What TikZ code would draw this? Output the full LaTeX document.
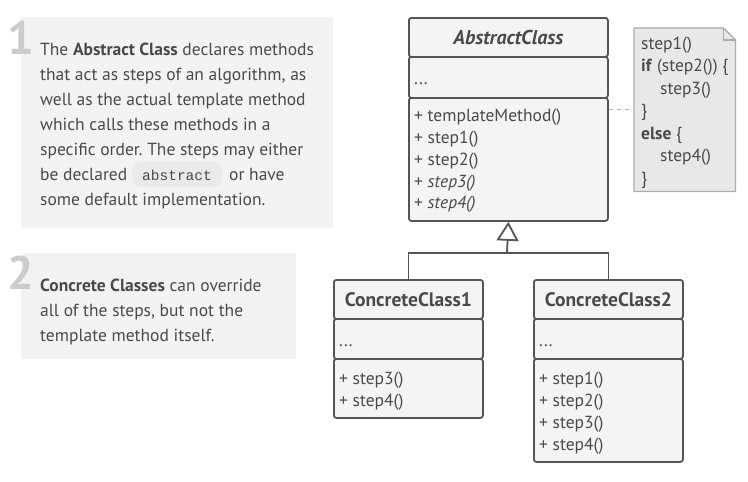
\documentclass[tikz,border=0pt]{standalone}
\usepackage{fontspec}
\setmainfont{PT Sans}
\newfontfamily\codefont{Liberation Mono}
\usetikzlibrary{arrows.meta}
\frenchspacing
\definecolor{panelbg}{HTML}{F3F3F3}
\definecolor{numcol}{HTML}{CCCCCC}
\definecolor{ink}{HTML}{4A4A4A}
\definecolor{boxline}{HTML}{555555}
\definecolor{boxfill}{HTML}{F4F4F4}
\definecolor{notefill}{HTML}{E8E8E8}
\definecolor{noteline}{HTML}{ABABAB}
\definecolor{codebg}{HTML}{EAEAEA}
\tikzset{
  panel/.style={fill=panelbg, draw=none},
  bignum/.style={font=\fontsize{47}{47}\selectfont\bfseries, text=numcol, inner sep=0pt, anchor=base east},
  desc/.style={font=\fontsize{17.5}{25}\selectfont, text=ink, inner sep=0pt, anchor=base west},
  comp/.style={draw=boxline, fill=boxfill, line width=1.8pt, rounded corners=2.5pt, inner sep=0pt, anchor=north west},
  ctitle/.style={font=\fontsize{19.5}{20}\selectfont\bfseries, text=ink},
  mtext/.style={font=\fontsize{17.5}{22}\selectfont, text=ink, inner sep=0pt, anchor=base west},
  notebox/.style={draw=noteline, fill=notefill, line width=1.2pt, line join=round},
  dashline/.style={draw=noteline, line width=1.2pt, dash pattern=on 4pt off 4pt},
  inherit/.style={draw=boxline, line width=1.8pt},
  codechip/.style={fill=codebg, rounded corners=9pt, inner sep=0pt, anchor=north west}
}
\begin{document}
\begin{tikzpicture}[x=1pt,y=-1pt]
\useasboundingbox (0,0) rectangle (748,482);

% ---------- panel 1 ----------
\node[panel, anchor=north west, minimum width=312pt, minimum height=211pt, inner sep=0pt] (p1) at (21,17) {};
\node[codechip, minimum width=90pt, minimum height=25pt] (chip) at (132,162) {};
\node[bignum] (n1) at (34,54) {1};
\node[desc] (l1) at (40,55) {The \textbf{Abstract Class} declares methods};
\node[desc] (l2) at (40,80) {that act as steps of an algorithm, as};
\node[desc] (l3) at (40,105) {well as the actual template method};
\node[desc] (l4) at (40,130) {which calls these methods in a};
\node[desc] (l5) at (40,155) {specific order. The steps may either};
\node[desc] (l6) at (40,180) {be declared};
\node[desc, font=\fontsize{14.5}{25}\codefont] (l6b) at (142,180) {abstract};
\node[desc] (l6c) at (229,180) {or have};
\node[desc] (l7) at (40,205) {some default implementation.};

% ---------- panel 2 ----------
\node[panel, anchor=north west, minimum width=275pt, minimum height=106pt, inner sep=0pt] (p2) at (21,253) {};
\node[bignum] (n2) at (34,289) {2};
\node[desc] (m1) at (40,291) {\textbf{Concrete Classes} can override};
\node[desc] (m2) at (40,316) {all of the steps, but not the};
\node[desc] (m3) at (40,341) {template method itself.};

% ---------- AbstractClass ----------
\node[comp, minimum width=199pt, minimum height=123pt] (acm) at (408,97) {};
\node[comp, minimum width=199pt, minimum height=41pt] (aca) at (408,56) {};
\node[comp, minimum width=199pt, minimum height=39pt] (ach) at (408,17) {};
\node[ctitle, font=\fontsize{20}{20}\selectfont\bfseries\itshape] (act) at (ach.center) {AbstractClass};
\node[mtext] (aad) at (414,84) {...};
\node[mtext] (am1) at (414,121) {+ templateMethod()};
\node[mtext] (am2) at (414,143) {+ step1()};
\node[mtext] (am3) at (414,165) {+ step2()};
\node[mtext] (am4) at (414,187) {+ \textit{step3()}};
\node[mtext] (am5) at (414,208.5) {+ \textit{step4()}};

% ---------- note ----------
\node[anchor=north west, minimum width=101pt, minimum height=163pt, inner sep=0pt] (note) at (634,28) {};
\draw[notebox] (note.north west) -- ([xshift=-12pt]note.north east) -- ([yshift=-12pt]note.north east) -- (note.south east) -- (note.south west) -- cycle;
\draw[notebox, fill=none] ([xshift=-12pt]note.north east) -- ([xshift=-12pt,yshift=-12pt]note.north east) -- ([yshift=-12pt]note.north east);
\node[mtext] (t1) at (641,49) {step1()};
\node[mtext] (t2) at (641,71.5) {\textbf{if} (step2()) \{};
\node[mtext] (t3) at (660,94) {step3()};
\node[mtext] (t4) at (641,116.5) {\}};
\node[mtext] (t5) at (641,139) {\textbf{else} \{};
\node[mtext] (t6) at (660,161.5) {step4()};
\node[mtext] (t7) at (641,184) {\}};
\draw[dashline] (note.west -| acm.east) -- (note.west);

% ---------- ConcreteClass1 ----------
\node[comp, minimum width=149pt, minimum height=59pt] (c1m) at (333,358) {};
\node[comp, minimum width=149pt, minimum height=40pt] (c1a) at (333,318) {};
\node[comp, minimum width=149pt, minimum height=39pt] (c1h) at (333,279) {};
\node[ctitle] (c1t) at (c1h.center) {ConcreteClass1};
\node[mtext] (c1d) at (339,346) {...};
\node[mtext] (c1s3) at (339,384) {+ step3()};
\node[mtext] (c1s4) at (339,406) {+ step4()};

% ---------- ConcreteClass2 ----------
\node[comp, minimum width=149pt, minimum height=103pt] (c2m) at (533,358) {};
\node[comp, minimum width=149pt, minimum height=40pt] (c2a) at (533,318) {};
\node[comp, minimum width=149pt, minimum height=39pt] (c2h) at (533,279) {};
\node[ctitle] (c2t) at (c2h.center) {ConcreteClass2};
\node[mtext] (c2d) at (539,346) {...};
\node[mtext] (c2s1) at (539,384) {+ step1()};
\node[mtext] (c2s2) at (539,406) {+ step2()};
\node[mtext] (c2s3) at (539,428) {+ step3()};
\node[mtext] (c2s4) at (539,450) {+ step4()};

% ---------- inheritance ----------
\coordinate (junc) at (507,253);
\draw[inherit] (c1h.north) |- (junc) -| (c2h.north);
\draw[inherit, -{Triangle[open, length=19pt, width=22pt, line width=1.8pt]}] (junc) -- (acm.south);
\end{tikzpicture}
\end{document}
